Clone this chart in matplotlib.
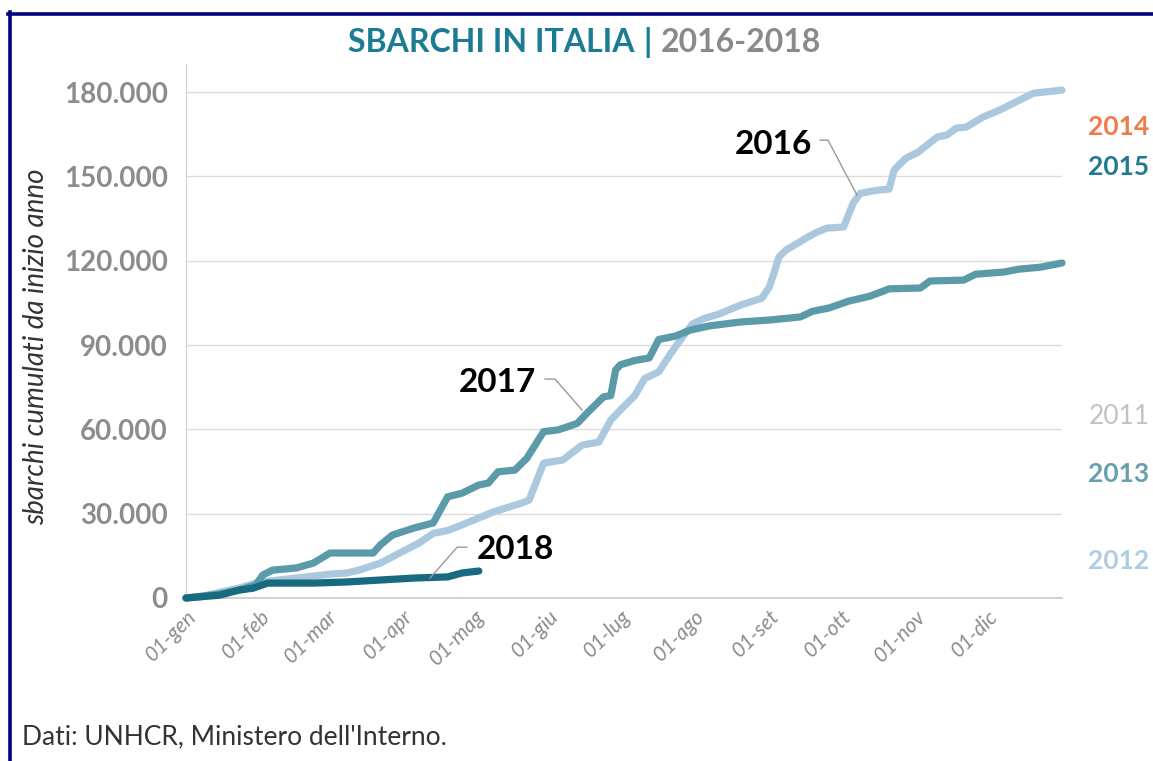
import matplotlib
matplotlib.use("Agg")
import matplotlib.pyplot as plt
from matplotlib.lines import Line2D
from matplotlib.ticker import FuncFormatter

# ---------------- data (day of year, cumulative landings) ----------------
days_2016 = [0, 6, 14, 22, 31, 46, 60, 67, 72, 81, 89, 97, 103, 109, 117, 128, 140, 143,
             149, 157, 165, 172, 177, 181, 187, 191, 197, 202, 207, 211, 216, 222, 231,
             240, 243, 245, 247, 250, 255, 259, 263, 267, 274, 278, 281, 288, 293, 295,
             297, 300, 305, 313, 317, 321, 325, 332, 339, 353, 365]
vals_2016 = [0, 400, 2000, 3500, 5700, 7100, 8500, 8900, 9900, 12400, 16000, 19500, 23000,
             24000, 26700, 30600, 33800, 34900, 48000, 49100, 54400, 55500, 63300, 66900,
             72000, 78000, 80500, 87000, 93000, 97500, 99500, 101000, 104200, 106700,
             110600, 115600, 121300, 123800, 126300, 128400, 130200, 131600, 132000,
             140500, 144000, 145100, 145500, 152200, 154000, 156500, 158600, 164000,
             164700, 167200, 167500, 171100, 173600, 179600, 180700]

days_2017 = [0, 14, 22, 29, 32, 36, 46, 53, 60, 78, 81, 86, 95, 103, 109, 115, 122, 126,
             130, 137, 142, 149, 155, 163, 167, 174, 177, 179, 181, 187, 193, 197, 204,
             210, 218, 231, 243, 256, 261, 268, 276, 285, 293, 306, 310, 324, 329, 341,
             347, 356, 365]
vals_2017 = [0, 1400, 2800, 4600, 8200, 9900, 10700, 12400, 16000, 16000, 18900, 22400,
             24900, 26700, 36000, 37300, 40200, 40900, 44900, 45500, 49700, 59200, 59800,
             62100, 65700, 71600, 72000, 81100, 83000, 84500, 85400, 92000, 93200, 95300,
             96800, 98200, 98900, 100000, 102000, 103200, 105600, 107400, 110000, 110300,
             112800, 113100, 115200, 116000, 117000, 117700, 119200]

days_2018 = [0, 14, 22, 28, 34, 53, 67, 81, 95, 109, 115, 122]
vals_2018 = [0, 1000, 2800, 3500, 5300, 5300, 5700, 6400, 7100, 7500, 8900, 9600]

month_days = [0, 31, 59, 90, 120, 151, 181, 212, 243, 273, 304, 334]
month_labels = ["01-gen", "01-feb", "01-mar", "01-apr", "01-mag", "01-giu",
                "01-lug", "01-ago", "01-set", "01-ott", "01-nov", "01-dic"]
y_ticks = [0, 30000, 60000, 90000, 120000, 150000, 180000]

side_years = ["2014", "2015", "2011", "2013", "2012"]
side_colors = ["#f07b4b", "#1f7a92", "#c2c2c2", "#66a0ad", "#b0cde0"]
side_weights = ["bold", "bold", "normal", "bold", "bold"]
side_ypos = [127, 167, 417, 474, 561]   # pixel rows of the right-hand labels

title_parts = ["SBARCHI IN ITALIA", "|", "2016-2018"]
title_colors = ["#1b7c93", "#1b7c93", "#8a8a8a"]

c2016 = "#aac9de"
c2017 = "#5b9ba9"
c2018 = "#176a80"

FONT = "Lato"
W, H = 1153, 761

fig = plt.figure(figsize=(W / 100, H / 100), dpi=100)
ax = fig.add_axes([186 / W, 1 - 598 / H, (1062 - 186) / W, (598 - 64) / H])

ax.plot(days_2016, vals_2016, color=c2016, lw=5.2, solid_capstyle="round",
        solid_joinstyle="round", clip_on=False, zorder=3)
ax.plot(days_2017, vals_2017, color=c2017, lw=5.2, solid_capstyle="round",
        solid_joinstyle="round", clip_on=False, zorder=4)
ax.plot(days_2018, vals_2018, color=c2018, lw=5.2, solid_capstyle="round",
        solid_joinstyle="round", clip_on=False, zorder=5)

ax.set_xlim(0, 365)
ax.set_ylim(0, 190000)
ax.set_yticks(y_ticks)
ax.yaxis.set_major_formatter(FuncFormatter(lambda v, p: f"{int(v):,}".replace(",", ".")))
ax.set_xticks(month_days)
ax.set_xticklabels(month_labels, rotation=45, ha="right", rotation_mode="anchor",
                   fontstyle="italic", fontsize=15, color="#8c8c8c", family=FONT)
for lab in ax.get_yticklabels():
    lab.set_fontsize(20)
    lab.set_color("#8c8c8c")
    lab.set_fontweight("bold")
    lab.set_family(FONT)
ax.tick_params(axis="both", length=0)
ax.tick_params(axis="y", pad=13)
ax.tick_params(axis="x", pad=6)

ax.grid(axis="y", color="#dcdcdc", lw=1)
ax.set_axisbelow(True)
for s in ["top", "right"]:
    ax.spines[s].set_visible(False)
ax.spines["left"].set_color("#d0d0d0")
ax.spines["bottom"].set_color("#c8c8c8")
ax.spines["bottom"].set_linewidth(1.2)

ax.set_ylabel("sbarchi cumulati da inizio anno", fontsize=20, fontstyle="italic",
              color="#333333", family=FONT)
ax.yaxis.set_label_coords(-0.156, 0.47)

# annotations
ann_style = dict(fontsize=24, fontweight="bold", color="black", family=FONT, va="center")
ax.text(261, 161500, "2016", ha="right", **ann_style)
ax.plot([264.2, 267.5, 279.6], [162900, 162900, 143350], color="#999999", lw=1, zorder=6)
ax.text(146, 76500, "2017", ha="right", **ann_style)
ax.plot([149.6, 153.75, 165], [77900, 77900, 66900], color="#999999", lw=1, zorder=6)
ax.text(121, 17400, "2018", ha="left", **ann_style)
ax.plot([117, 113, 101.7], [18100, 18100, 7100], color="#999999", lw=1, zorder=6)

# right-hand year labels
for yr, col, wt, yp in zip(side_years, side_colors, side_weights, side_ypos):
    fig.text(1119 / W, 1 - yp / H, yr, color=col, fontsize=19, fontweight=wt,
             family=FONT, ha="center", va="center")

# title: pieces placed side by side, whole line centred
renderer = fig.canvas.get_renderer()
gap = 9
objs = []
for part, col in zip(title_parts, title_colors):
    t = fig.text(0, 1 - 42 / H, part, color=col, fontsize=23, fontweight="bold",
                 family=FONT, ha="left", va="center")
    objs.append(t)
widths = [o.get_window_extent(renderer).width for o in objs]
total = sum(widths) + gap * (len(objs) - 1)
x = 585 - total / 2
for o, w in zip(objs, widths):
    o.set_x(x / W)
    x += w + gap

# source
fig.text(22 / W, 1 - 737 / H, "Dati: UNHCR, Ministero dell'Interno.", color="#333333",
         fontsize=19, family=FONT, ha="left", va="center")

# frame lines (top and left)
fig.add_artist(Line2D([8 / W, 1], [1 - 13.5 / H, 1 - 13.5 / H], color="#000080", lw=2.6,
                      transform=fig.transFigure))
fig.add_artist(Line2D([9.5 / W, 9.5 / W], [0, 1 - 12 / H], color="#000080", lw=2.6,
                      transform=fig.transFigure))

fig.savefig("out.png", dpi=100, facecolor="white")
